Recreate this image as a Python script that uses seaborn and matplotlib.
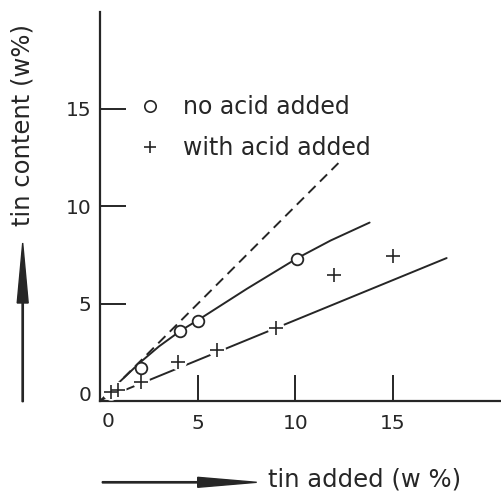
import matplotlib
matplotlib.use("Agg")
import matplotlib.pyplot as plt
from matplotlib.patches import FancyArrow
from matplotlib.transforms import Affine2D
from matplotlib.lines import Line2D
import seaborn as sns

# Measured tin content versus tin added (w %)
no_acid_x = [2.1, 4.1, 5.0, 10.1]
no_acid_y = [1.7, 3.6, 4.1, 7.3]

with_acid_x = [0.55, 0.9, 2.1, 4.0, 6.0, 9.0, 12.0, 15.0]
with_acid_y = [0.45, 0.55, 1.0, 2.0, 2.6, 3.75, 6.45, 7.45]

# Drawn trend curves
curve_no_acid_x = [0, 1, 2, 3, 4.1, 5.0, 7.5, 10.1, 11.8, 13.8]
curve_no_acid_y = [0, 1.0, 1.95, 2.8, 3.6, 4.15, 5.75, 7.33, 8.23, 9.15]
line_with_acid_x = [0, 17.75]
line_with_acid_y = [0.05, 7.33]
ideal_x = [0, 12.2]
ideal_y = [0, 12.2]

x_ticks = [5, 10, 15]
y_ticks = [5, 10, 15]
tick_labels_x = ["5", "10", "15"]
tick_labels_y = ["5", "10", "15"]

labels = ["no acid added", "with acid added"]
x_title = "tin added (w %)"
y_title = "tin content (w%)"

sns.set_theme(style="white")
plt.rcParams["font.family"] = ["DejaVu Sans"]
FS_TICK = 14.5
FS_LEG = 17
FS_TITLE = 17.5
INK = "#262626"

W, H = 502, 491
fig = plt.figure(figsize=(W / 100, H / 100), dpi=100)
left, right, bottom_px, top_px = 100.5, 502, 401, 12
ax = fig.add_axes([left / W, (H - bottom_px) / H, (right - left) / W, (bottom_px - top_px) / H])
ax.set_xlim(0, (right - left) / 19.5)
ax.set_ylim(0, (bottom_px - top_px) / 19.5)

lw = 1.4
sns.lineplot(x=ideal_x, y=ideal_y, ax=ax, color=INK, lw=lw,
             linestyle=(0, (5.2, 3.2)), sort=False, estimator=None, zorder=2)
sns.lineplot(x=curve_no_acid_x, y=curve_no_acid_y, ax=ax, color=INK, lw=lw,
             sort=False, estimator=None, zorder=2)
sns.lineplot(x=line_with_acid_x, y=line_with_acid_y, ax=ax, color=INK, lw=lw,
             sort=False, estimator=None, zorder=2)

# white halo behind the crosses so the line is broken around them
sns.scatterplot(x=with_acid_x, y=with_acid_y, ax=ax, marker="o", s=150,
                color="white", edgecolor="none", linewidth=0, zorder=3)
sns.scatterplot(x=with_acid_x, y=with_acid_y, ax=ax, marker="+", s=90,
                color=INK, linewidth=1.2, zorder=4)
sns.scatterplot(x=no_acid_x, y=no_acid_y, ax=ax, marker="o", s=70,
                facecolor="white", edgecolor=INK, linewidth=1.3, zorder=4)

# only left and bottom spines, ticks pointing inward
for side in ["top", "right"]:
    ax.spines[side].set_visible(False)
for side in ["left", "bottom"]:
    ax.spines[side].set_color(INK)
    ax.spines[side].set_linewidth(1.6)

ax.set_xticks(x_ticks)
ax.set_xticklabels(tick_labels_x)
ax.set_yticks(y_ticks)
ax.set_yticklabels(tick_labels_y)
ax.tick_params(axis="both", direction="in", length=19, width=1.4, color=INK,
               labelsize=FS_TICK, labelcolor=INK, bottom=True, left=True)
ax.tick_params(axis="x", pad=9.5)
ax.tick_params(axis="y", pad=6.5)
ax.set_xlabel("")
ax.set_ylabel("")

# zero labels at the origin
ax.text(-0.45, 0.3, "0", ha="right", va="center", fontsize=FS_TICK, color=INK,
        clip_on=False)
ax.text(0.38, -1.06, "0", ha="center", va="center", fontsize=FS_TICK, color=INK,
        clip_on=False)

handles = [
    Line2D([], [], marker="o", linestyle="none", markersize=8.2, markerfacecolor="white",
           markeredgecolor=INK, markeredgewidth=1.2),
    Line2D([], [], marker="+", linestyle="none", markersize=8.6, markeredgecolor=INK,
           markeredgewidth=1.2),
]
leg = ax.legend(handles, labels, loc="upper left", bbox_to_anchor=(0.0945, 0.787),
                frameon=False, fontsize=FS_LEG, handlelength=1.0, handletextpad=0.88,
                labelspacing=0.74, borderpad=0, borderaxespad=0)
for t in leg.get_texts():
    t.set_color(INK)

# axis titles with arrows outside the axes, in figure pixels
px = Affine2D().scale(1 / fig.dpi) + fig.dpi_scale_trans
fig.add_artist(FancyArrow(22.7, H - 401.7, 0, 158.7, width=1.3, head_width=11,
                          head_length=60, length_includes_head=True, color=INK,
                          transform=px))
fig.add_artist(FancyArrow(102.3, H - 482.3, 154.4, 0, width=1.3, head_width=10,
                          head_length=59, length_includes_head=True, color=INK,
                          transform=px))
fig.text(22.5, H - 125, y_title, rotation=90, ha="center", va="center",
         fontsize=FS_TITLE, color=INK, transform=px)
fig.text(268, H - 480, x_title, ha="left", va="center", fontsize=FS_TITLE, color=INK,
         transform=px)

fig.savefig("out.png", dpi=100)
